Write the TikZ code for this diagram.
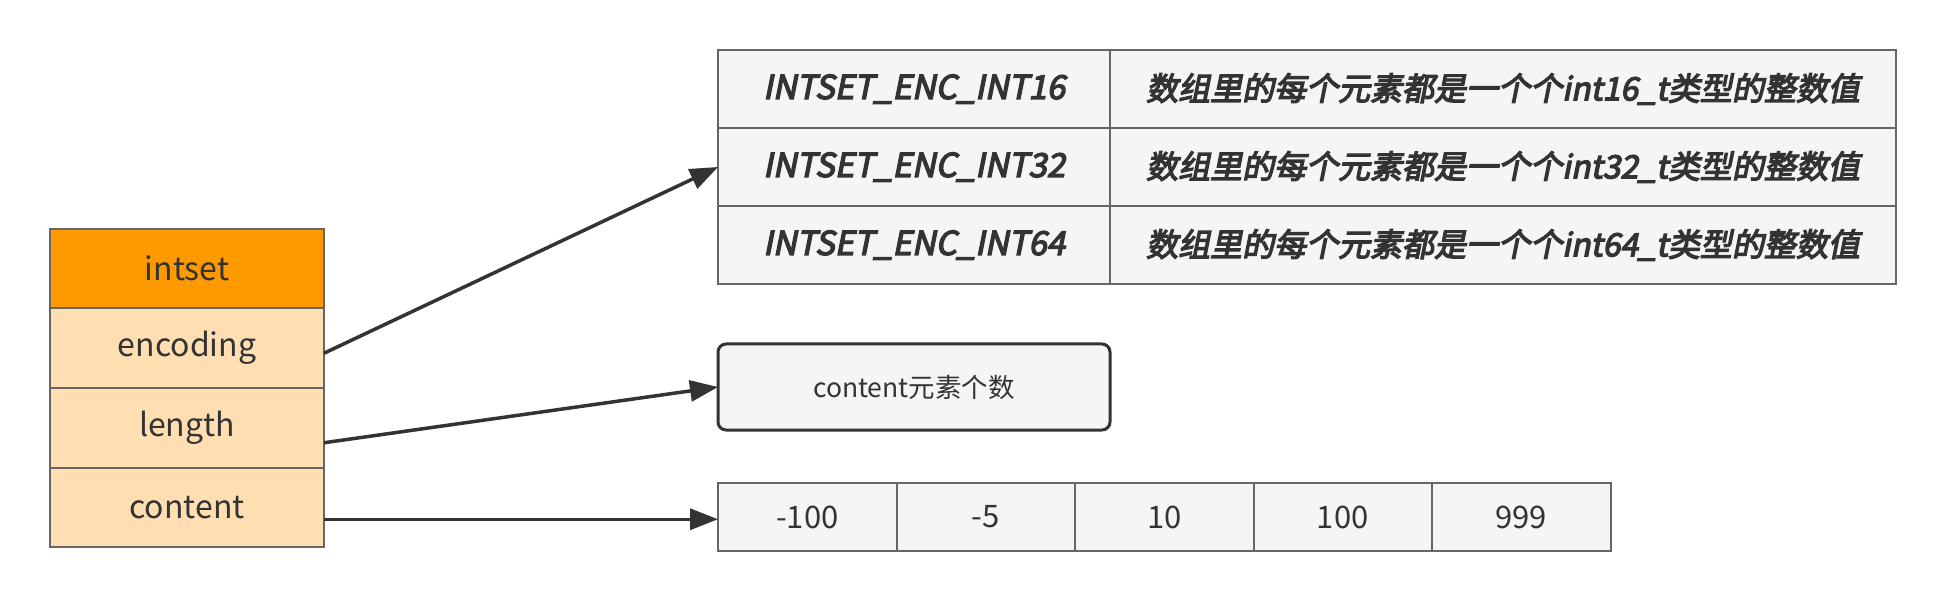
\documentclass[tikz,border=0pt]{standalone}
\usepackage{fontspec}
\setmainfont{Noto Sans CJK SC}
\newfontfamily\bifont[FakeBold=4,FakeSlant=0.2]{Noto Sans CJK SC}
\usetikzlibrary{arrows.meta,calc}
\definecolor{hdr}{HTML}{FF9900}
\definecolor{fld}{HTML}{FFDFB2}
\definecolor{bord}{HTML}{666666}
\definecolor{cellbg}{HTML}{F5F5F5}
\definecolor{ink}{HTML}{333333}
\begin{document}
\begin{tikzpicture}[x=1pt,y=-1pt,
  field/.style={draw=bord,line width=2pt,outer sep=0pt,fill=fld,minimum width=274pt,minimum height=79.5pt,inner sep=0pt,text=ink,font=\fontsize{32}{38}\selectfont},
  tcell/.style={draw=bord,line width=2pt,outer sep=0pt,fill=cellbg,minimum height=78pt,inner sep=0pt,text=ink,font=\bifont\fontsize{33}{38}\selectfont},
  dcell/.style={tcell,minimum width=786pt,font=\bifont\fontsize{32}{38}\selectfont},
  acell/.style={draw=bord,line width=2pt,outer sep=0pt,fill=cellbg,minimum width=178.5pt,minimum height=68pt,inner sep=0pt,text=ink,font=\fontsize{31}{36}\selectfont},
  conn/.style={draw=ink,line width=3.5pt,-{Triangle[length=28pt,width=21pt]}}]
\useasboundingbox (0,0) rectangle (1946,601);
% left structure
\node[field,fill=hdr,anchor=north west] (hd) at (50,229) {intset};
\node[field,anchor=north] (enc) at (hd.south) {encoding};
\node[field,anchor=north] (len) at (enc.south) {length};
\node[field,anchor=north] (con) at (len.south) {content};
% encoding table
\node[tcell,minimum width=392pt,anchor=north west] (e16) at (718,50) {INTSET\_ENC\_INT16};
\node[dcell,anchor=west] (d16) at (e16.east) {数组里的每个元素都是一个个int16\_t类型的整数值};
\node[tcell,minimum width=392pt,anchor=north] (e32) at (e16.south) {INTSET\_ENC\_INT32};
\node[dcell,anchor=west] (d32) at (e32.east) {数组里的每个元素都是一个个int32\_t类型的整数值};
\node[tcell,minimum width=392pt,anchor=north] (e64) at (e32.south) {INTSET\_ENC\_INT64};
\node[dcell,anchor=west] (d64) at (e64.east) {数组里的每个元素都是一个个int64\_t类型的整数值};
% length box
\node[draw=ink,line width=3pt,outer sep=0pt,rounded corners=8pt,fill=cellbg,minimum width=392pt,minimum height=86pt,anchor=north west,text=ink,font=\fontsize{26.5}{31}\selectfont] (cnt) at (718,344) {content元素个数};
% content array
\node[acell,anchor=north west] (a1) at (718,483) {-100};
\node[acell,anchor=west] (a2) at (a1.east) {-5};
\node[acell,anchor=west] (a3) at (a2.east) {10};
\node[acell,anchor=west] (a4) at (a3.east) {100};
\node[acell,anchor=west] (a5) at (a4.east) {999};
% connectors
\coordinate (s1) at ($(enc.east)+(0,5)$);
\coordinate (s2) at ($(len.east)+(0,15)$);
\coordinate (s3) at ($(con.east)+(0,12)$);
\draw[conn] (s1) -- (e32.west);
\draw[conn] (s2) -- (cnt.west);
\draw[conn] (s3) -- (s3 -| a1.west);
\end{tikzpicture}
\end{document}
